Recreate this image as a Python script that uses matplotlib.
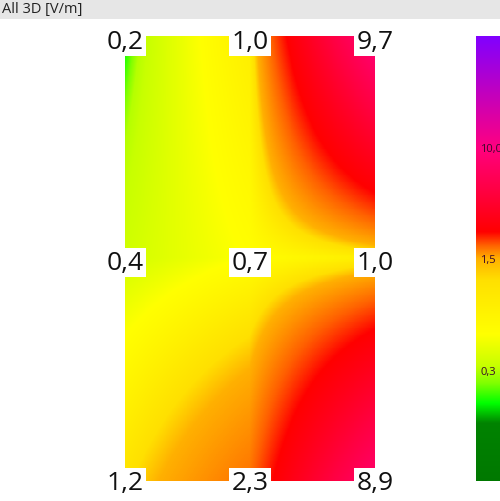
import numpy as np
import matplotlib
matplotlib.use('Agg')
import matplotlib.pyplot as plt
from matplotlib.colors import LinearSegmentedColormap, FuncNorm
from matplotlib.cm import ScalarMappable
from matplotlib.patches import Rectangle
from matplotlib.transforms import offset_copy

# Field values at the 3x3 measuring points [V/m]
top_row = [0.2, 1.0, 9.7]
mid_row = [0.4, 0.7, 1.0]
bot_row = [1.2, 2.3, 8.9]
value_labels = [['0,2', '1,0', '9,7'],
                ['0,4', '0,7', '1,0'],
                ['1,2', '2,3', '8,9']]

# Colour scale: knot values and where they sit on the bar
knot_values = [0.0, 0.3, 1.5, 10.0, 60.0]
knot_pos = [0.0, 0.25, 0.5, 0.75, 1.0]
bar_ticks = [0.3, 1.5, 10.0]
bar_labels = ['0,3', '1,5', '10,0']

plt.rcParams['font.family'] = ['Open Sans', 'DejaVu Sans']

def forward(v):
    return np.interp(np.asarray(v, dtype=float), knot_values, knot_pos)

def inverse(f):
    return np.interp(np.asarray(f, dtype=float), knot_pos, knot_values)

norm = FuncNorm((forward, inverse), vmin=knot_values[0], vmax=knot_values[-1])
cmap = LinearSegmentedColormap.from_list('field', [
    (0.0, '#007800'), (0.13, '#008200'), (0.175, '#00ff00'), (0.22, '#80ff00'),
    (0.26, '#c8ff00'), (0.33, '#ffff00'), (0.45, '#ffe000'), (0.5, '#ffb000'),
    (0.53, '#ff6000'), (0.56, '#ff0000'), (0.65, '#ff0040'), (0.75, '#ff0080'),
    (1.0, '#8000ff')], N=2048)

grid = np.array([top_row, mid_row, bot_row])

fig = plt.figure(figsize=(5.0, 5.02), dpi=100)

# title bar
fig.patches.append(Rectangle((0, 1 - 20 / 502), 1, 20 / 502, transform=fig.transFigure,
                             facecolor='#e6e6e6', edgecolor='none', zorder=0))
fig.text(2 / 500, 1 - 10 / 502, 'All 3D [V/m]', ha='left', va='center',
         fontsize=10.5, color='#222222')

ax = fig.add_axes([125 / 500, 20 / 502, 250 / 500, 445 / 502])
ax.imshow(grid, cmap=cmap, norm=norm, interpolation='bilinear',
          interpolation_stage='data', extent=(-0.5, 2.5, 2.5, -0.5), aspect='auto')
ax.set_xlim(0, 2)
ax.set_ylim(2, 0)
ax.axis('off')

row_shift = [-5, -4, -2]  # labels sit a little below their point
for r in range(3):
    trans = offset_copy(ax.transData, fig=fig, y=row_shift[r], units='dots')
    for c in range(3):
        ax.text(c, r, value_labels[r][c], ha='center', va='center', fontsize=19,
                color='#111111', clip_on=False, transform=trans,
                bbox=dict(facecolor='white', edgecolor='none', pad=1.5))

# colour bar, cut off at the right edge like the original
cax = fig.add_axes([476 / 500, 20 / 502, 44 / 500, 445 / 502])
cbar = fig.colorbar(ScalarMappable(norm=norm, cmap=cmap), cax=cax)
cbar.outline.set_visible(False)
cax.set_yticks(bar_ticks, bar_labels)
cax.minorticks_off()
cax.tick_params(axis='y', left=False, right=False, labelleft=True, labelright=False,
                length=0, pad=-3, labelsize=8, labelcolor='#3a0a2a')
for lbl in cax.get_yticklabels():
    lbl.set_ha('left')

fig.savefig('out.png', dpi=100)
